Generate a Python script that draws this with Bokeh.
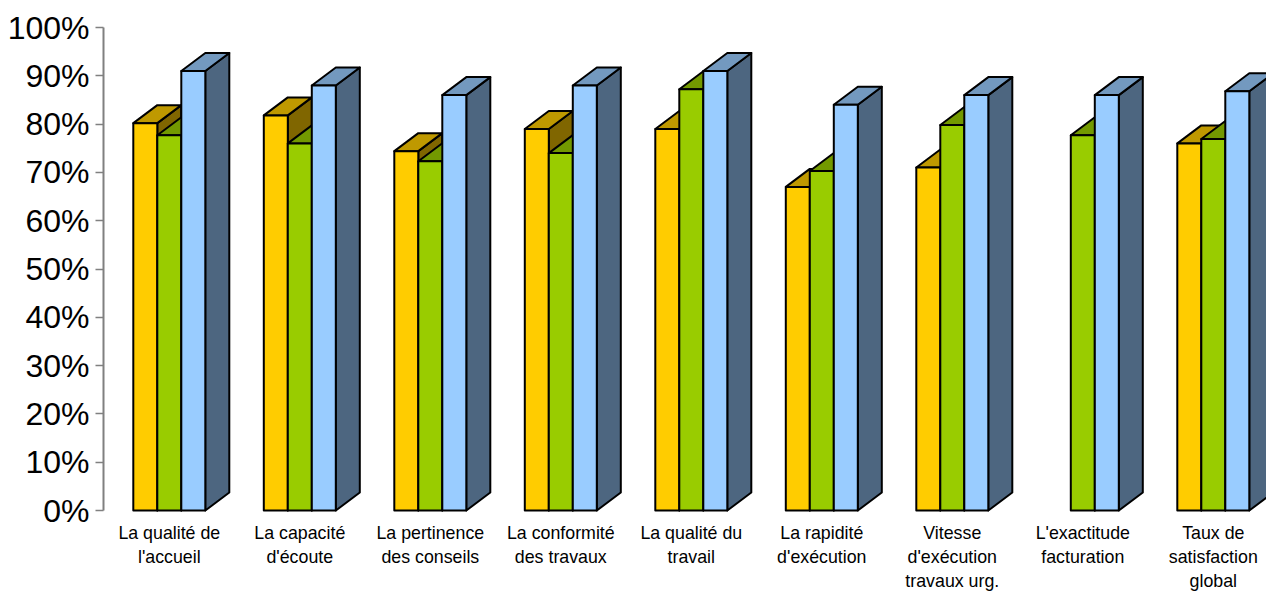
from bokeh.plotting import figure
from bokeh.models import Range1d, FixedTicker
from bokeh.core.properties import value
from bokeh.embed import file_html
from bokeh.resources import INLINE

categories = ["La qualité de\nl'accueil", "La capacité\nd'écoute", "La pertinence\ndes conseils",
              "La conformité\ndes travaux", "La qualité du\ntravail", "La rapidité\nd'exécution",
              "Vitesse\nd'exécution\ntravaux urg.", "L'exactitude\nfacturation", "Taux de\nsatisfaction\nglobal"]
serie_a = [80.2, 81.8, 74.4, 79, 79, 67, 71, None, 76]
serie_b = [77.7, 76, 72.3, 74, 87.2, 70.3, 79.8, 77.7, 76.9]
serie_c = [91, 88, 86, 88, 91, 84, 86, 86, 86.8]
y_ticks = [0, 10, 20, 30, 40, 50, 60, 70, 80, 90, 100]

STEP = 130.5
PX = 4.83
BW = 24 / STEP
DX = 24 / STEP
DY = 18 / PX
FRONT = ["#FFCC00", "#99CC00", "#99CCFF"]
TOP = ["#BF9900", "#739900", "#7399BF"]
SIDE = ["#806600", "#4D6600", "#4D6680"]

p = figure(width=1266, height=591, output_backend="svg", toolbar_location=None,
           x_range=Range1d((103 - 168.8) / STEP, (1266 - 168.8) / STEP), y_range=Range1d(-81 / PX, 100),
           min_border_left=103, min_border_right=0, min_border_top=27, min_border_bottom=0,
           outline_line_color=None, background_fill_color="white", border_fill_color="white")
p.grid.visible = False
p.xaxis.visible = False

ax = p.yaxis[0]
ax.bounds = (0, 100)
ax.ticker = FixedTicker(ticks=y_ticks)
ax.major_label_overrides = {v: f"{v}%" for v in y_ticks}
ax.major_label_text_font = "Liberation Sans"
ax.major_label_text_font_size = "32px"
ax.major_label_text_color = "#000000"
ax.major_label_standoff = 6
ax.major_tick_in = 0
ax.major_tick_out = 8
ax.minor_tick_line_color = None
ax.axis_line_color = "#808080"
ax.axis_line_width = 2
ax.major_tick_line_color = "#808080"
ax.major_tick_line_width = 1.5

series = [serie_a, serie_b, serie_c]
for i in range(len(categories)):
    for s, vals in enumerate(series):
        v = vals[i]
        if v is None:
            continue
        x0 = i + (s - 1.5) * BW
        x1 = x0 + BW
        style = dict(line_color="black", line_width=2, line_join="round")
        p.patch([x1, x1 + DX, x1 + DX, x1], [0, DY, v + DY, v], fill_color=SIDE[s], **style)
        p.patch([x0, x1, x1 + DX, x0 + DX], [v, v, v + DY, v + DY], fill_color=TOP[s], **style)
        p.patch([x0, x1, x1, x0], [0, 0, v, v], fill_color=FRONT[s], **style)

p.text(x=list(range(len(categories))), y=[-2.5] * len(categories), text=categories,
       text_align="center", text_baseline="top", text_font=value("Liberation Sans"),
       text_font_size="17.8px", text_color="#000000", text_line_height=1.22)

open("out.html", "w").write(file_html(p, INLINE))
